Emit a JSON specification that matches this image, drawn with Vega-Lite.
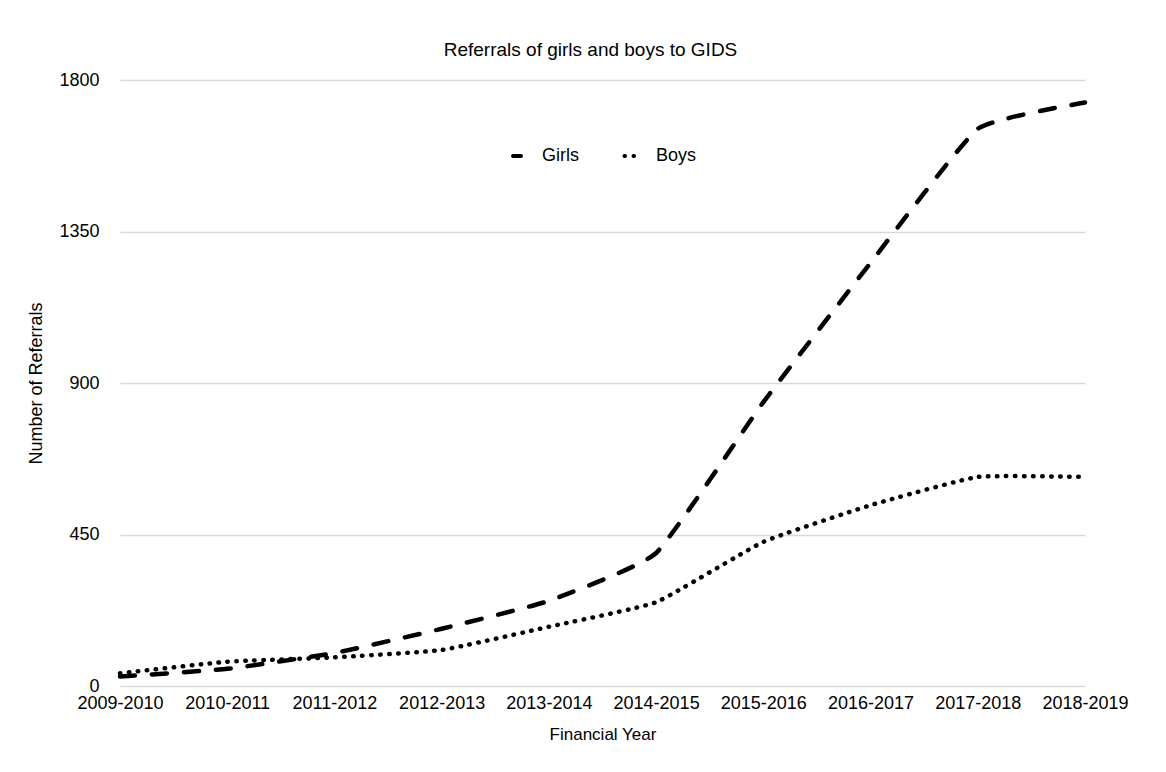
{
  "$schema": "https://vega.github.io/schema/vega-lite/v6.json",
  "width": 965,
  "height": 606,
  "autosize": {"type": "none"},
  "padding": {"left": 120, "top": 80, "right": 81, "bottom": 86},
  "background": "white",
  "title": {
    "text": "Referrals of girls and boys to GIDS",
    "font": "Liberation Sans",
    "fontSize": 19,
    "fontWeight": "normal",
    "color": "#000000",
    "anchor": "middle",
    "offset": 11,
    "dx": -12
  },
  "config": {
    "view": {"stroke": null},
    "font": "Liberation Sans"
  },
  "data": {
    "values": [
      {"year": "2009-2010", "sex": "Girls", "referrals": 28},
      {"year": "2010-2011", "sex": "Girls", "referrals": 51},
      {"year": "2011-2012", "sex": "Girls", "referrals": 98},
      {"year": "2012-2013", "sex": "Girls", "referrals": 170},
      {"year": "2013-2014", "sex": "Girls", "referrals": 253},
      {"year": "2014-2015", "sex": "Girls", "referrals": 395},
      {"year": "2015-2016", "sex": "Girls", "referrals": 843},
      {"year": "2016-2017", "sex": "Girls", "referrals": 1257},
      {"year": "2017-2018", "sex": "Girls", "referrals": 1655},
      {"year": "2018-2019", "sex": "Girls", "referrals": 1733},
      {"year": "2009-2010", "sex": "Boys", "referrals": 38},
      {"year": "2010-2011", "sex": "Boys", "referrals": 72},
      {"year": "2011-2012", "sex": "Boys", "referrals": 85},
      {"year": "2012-2013", "sex": "Boys", "referrals": 107},
      {"year": "2013-2014", "sex": "Boys", "referrals": 176},
      {"year": "2014-2015", "sex": "Boys", "referrals": 249},
      {"year": "2015-2016", "sex": "Boys", "referrals": 428},
      {"year": "2016-2017", "sex": "Boys", "referrals": 537},
      {"year": "2017-2018", "sex": "Boys", "referrals": 621},
      {"year": "2018-2019", "sex": "Boys", "referrals": 621}
    ]
  },
  "mark": {
    "type": "line",
    "color": "#000000",
    "strokeWidth": 4.5,
    "strokeCap": "round",
    "interpolate": "cardinal",
    "tension": 0.6
  },
  "encoding": {
    "x": {
      "field": "year",
      "type": "ordinal",
      "scale": {"type": "point", "padding": 0},
      "axis": {
        "title": "Financial Year",
        "titleFont": "Liberation Sans",
        "titleFontSize": 17,
        "titleFontWeight": "normal",
        "titleColor": "#000000",
        "titlePadding": 14,
        "labelFont": "Liberation Sans",
        "labelFontSize": 18,
        "labelColor": "#000000",
        "labelAngle": 0,
        "labelPadding": 8,
        "labelOverlap": false,
        "domain": false,
        "ticks": false,
        "grid": false
      }
    },
    "y": {
      "field": "referrals",
      "type": "quantitative",
      "scale": {"domain": [0, 1800]},
      "axis": {
        "values": [0, 450, 900, 1350, 1800],
        "format": "d",
        "title": "Number of Referrals",
        "titleFont": "Liberation Sans",
        "titleFontSize": 18,
        "titleFontWeight": "normal",
        "titleColor": "#000000",
        "titlePadding": 13,
        "labelFont": "Liberation Sans",
        "labelFontSize": 18,
        "labelColor": "#000000",
        "labelPadding": 21,
        "domain": false,
        "ticks": false,
        "grid": true,
        "gridColor": "#d9d9d9",
        "gridWidth": 1.5
      }
    },
    "strokeDash": {
      "field": "sex",
      "type": "nominal",
      "scale": {"domain": ["Girls", "Boys"], "range": [[15, 17], [0.5, 8.5]]},
      "legend": {
        "title": null,
        "orient": "none",
        "legendX": 388,
        "legendY": 67,
        "direction": "horizontal",
        "symbolType": "stroke",
        "symbolStrokeColor": "#000000",
        "symbolStrokeWidth": 4,
        "symbolSize": 169,
        "labelFont": "Liberation Sans",
        "labelFontSize": 18,
        "labelColor": "#000000",
        "labelOffset": 16,
        "columnPadding": 37,
        "encode": {
          "symbols": {
            "update": {
              "strokeCap": {"value": "round"},
              "size": {"signal": "datum.value === 'Girls' ? 64 : 169"},
              "strokeDash": {"signal": "datum.value === 'Girls' ? [30, 10] : [0.5, 6]"}
            }
          }
        }
      }
    }
  }
}
